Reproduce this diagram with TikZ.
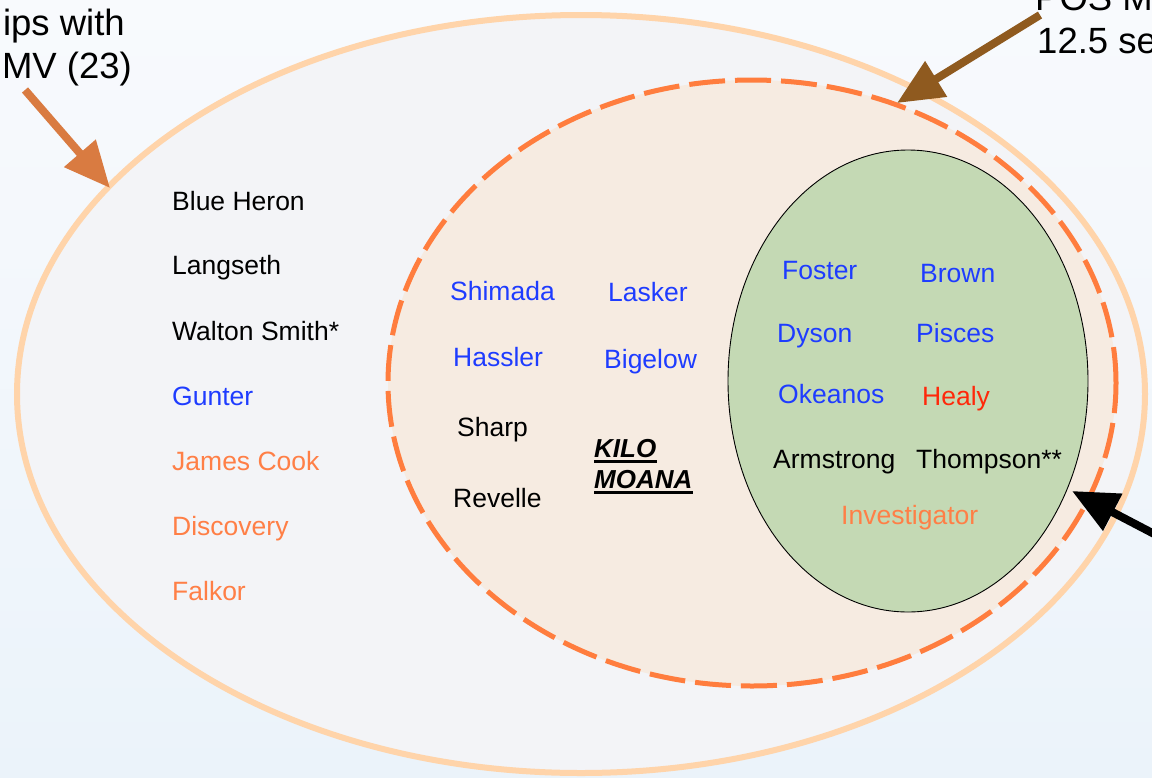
\documentclass[tikz,border=0pt]{standalone}
\usepackage{fontspec}
\setmainfont{Liberation Sans}
\usetikzlibrary{arrows.meta,shapes.geometric}
\definecolor{bgtop}{RGB}{248,250,253}
\definecolor{bgbot}{RGB}{235,243,250}
\definecolor{outerfill}{RGB}{243,244,247}
\definecolor{outerline}{RGB}{255,212,170}
\definecolor{dashline}{RGB}{255,125,62}
\definecolor{dashfill}{RGB}{246,235,225}
\definecolor{greenfill}{RGB}{196,217,180}
\definecolor{shipblue}{RGB}{30,60,255}
\definecolor{shipred}{RGB}{255,40,10}
\definecolor{shiporange}{RGB}{255,127,70}
\definecolor{arroworange}{RGB}{217,123,65}
\definecolor{arrowbrown}{RGB}{143,90,31}
\tikzset{
  ship/.style={inner sep=0pt, anchor=base west, font=\fontsize{26.5}{31}\selectfont},
  title/.style={inner sep=0pt, font=\fontsize{36.5}{43}\selectfont},
  bigarrow/.style={line width=8pt, -{Triangle[length=46pt,width=40pt]}},
}
\begin{document}
\begin{tikzpicture}[x=1pt,y=-1pt]
\useasboundingbox (0,0) rectangle (1152,777);
\fill[top color=bgtop, bottom color=bgbot] (0,0) rectangle (1152,777);
% ellipses
\node[ellipse, draw=outerline, fill=outerfill, line width=6pt, inner sep=0pt,
      minimum width=1128pt, minimum height=758pt] (outer) at (581,394) {};
\node[ellipse, draw=dashline, fill=dashfill, line width=5pt, inner sep=0pt,
      dash pattern=on 36pt off 10pt,
      minimum width=728pt, minimum height=606pt] (pos) at (752,383) {};
\node[ellipse, draw=black, fill=greenfill, line width=0.9pt, inner sep=0pt,
      minimum width=360pt, minimum height=462pt] (green) at (908,381) {};
% left column
\node[ship] (blueheron) at (172,210) {Blue Heron};
\node[ship] (langseth) at (172,274) {Langseth};
\node[ship] (walton) at (172,340) {Walton Smith*};
\node[ship, text=shipblue] (gunter) at (172,405) {Gunter};
\node[ship, text=shiporange] (jamescook) at (172,470) {James Cook};
\node[ship, text=shiporange] (discovery) at (172,535) {Discovery};
\node[ship, text=shiporange] (falkor) at (172,600) {Falkor};
% middle
\node[ship, text=shipblue] (shimada) at (450,300) {Shimada};
\node[ship, text=shipblue] (lasker) at (608,301) {Lasker};
\node[ship, text=shipblue] (hassler) at (453,366) {Hassler};
\node[ship, text=shipblue] (bigelow) at (604,368) {Bigelow};
\node[ship] (sharp) at (457,436) {Sharp};
\node[ship] (revelle) at (453,507) {Revelle};
\node[ship, font=\fontsize{26}{31}\selectfont\bfseries\itshape] (kilo) at (594,457) {KILO};
\node[ship, font=\fontsize{26}{31}\selectfont\bfseries\itshape] (moana) at (594,488) {MOANA};
\draw[line width=2.6pt] ([yshift=-4.5pt]kilo.base west) -- ([yshift=-4.5pt]kilo.base east);
\draw[line width=2.6pt] ([yshift=-4.5pt]moana.base west) -- ([yshift=-4.5pt]moana.base east);
% green
\node[ship, text=shipblue] (foster) at (782,279) {Foster};
\node[ship, text=shipblue] (brown) at (920,282) {Brown};
\node[ship, text=shipblue] (dyson) at (777,342) {Dyson};
\node[ship, text=shipblue] (pisces) at (916,342) {Pisces};
\node[ship, text=shipblue] (okeanos) at (778,403) {Okeanos};
\node[ship, text=shipred] (healy) at (922,405) {Healy};
\node[ship] (armstrong) at (773,468) {Armstrong};
\node[ship] (thompson) at (916,468) {Thompson**};
\node[ship, text=shiporange] (investigator) at (841,524) {Investigator};
% titles (cut by page edges, as in the reference)
\node[title, anchor=base east] (t1a) at (125,35) {ips with};
\node[title, anchor=base east] (t1b) at (132,78) {MV (23)};
\node[title, anchor=base west] (t2a) at (1035,10) {POS M};
\node[title, anchor=base west] (t2b) at (1037,53) {12.5 se};
% arrows
\coordinate (a1s) at (25,90);
\coordinate (a1e) at (110,188);
\coordinate (a2s) at (1040,15);
\coordinate (a2e) at (897,103);
\coordinate (a3s) at (1160,537);
\coordinate (a3e) at (1072,491);
\draw[bigarrow, color=arroworange] (a1s) -- (a1e);
\draw[bigarrow, color=arrowbrown] (a2s) -- (a2e);
\draw[bigarrow, color=black] (a3s) -- (a3e);
\end{tikzpicture}
\end{document}
